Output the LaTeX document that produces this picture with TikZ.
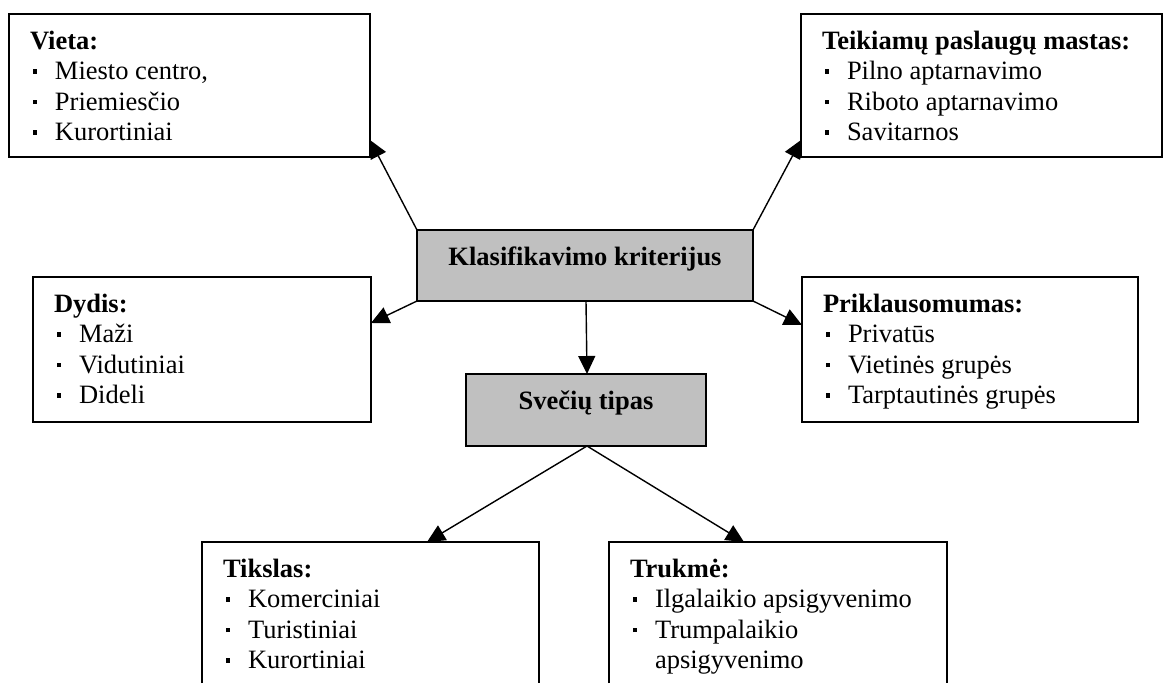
\documentclass[tikz,border=0pt]{standalone}
\usepackage{fontspec}
\setmainfont{Liberation Serif}
\usetikzlibrary{arrows.meta,calc}
\definecolor{boxgray}{HTML}{C0C0C0}
\newcommand\itm[1]{\par\hspace*{24pt}\raisebox{6pt}{\rule{4.2pt}{4.2pt}}\hspace*{17.8pt}#1}
\newcommand\ttl[1]{\hspace*{21pt}\rule{0pt}{35pt}\textbf{#1}}
\newcommand\listbox[3]{\parbox[c][#2pt][t]{#1pt}{\fontsize{26.5}{30.5}\selectfont\raggedright #3}}
\newcommand\midbox[3]{\parbox[c][#2pt][t]{#1pt}{\centering\fontsize{26.5}{30.5}\selectfont\bfseries\rule{0pt}{35pt}#3}}
\begin{document}
\begin{tikzpicture}[x=1pt,y=-1pt,
  frame/.style={draw=black,line width=1.5pt,inner sep=0pt,outer sep=0pt,anchor=north west,fill=white},
  openframe/.style={inner sep=0pt,outer sep=0pt,anchor=north west},
  grayframe/.style={frame,fill=boxgray},
  conn/.style={line width=1.4pt,-{Triangle[length=18pt,width=17pt]}},
  edge/.style={line width=1.5pt}]
\useasboundingbox (0,0) rectangle (1164,683);
\node[frame] (vieta) at (9,14) {\listbox{361}{143}{\ttl{Vieta:}\itm{Miesto centro,}\itm{Priemies\v{c}io}\itm{Kurortiniai}}};
\node[frame] (teik) at (801,14) {\listbox{361}{143}{\ttl{Teikiamų paslaugų mastas:}\itm{Pilno aptarnavimo}\itm{Riboto aptarnavimo}\itm{Savitarnos}}};
\node[frame] (dydis) at (33,277) {\listbox{338}{145}{\ttl{Dydis:}\itm{Maži}\itm{Vidutiniai}\itm{Dideli}}};
\node[frame] (prik) at (802,277) {\listbox{336}{145}{\ttl{Priklausomumas:}\itm{Privatūs}\itm{Vietinės grupės}\itm{Tarptautinės grupės}}};
\node[grayframe] (klas) at (417,230) {\midbox{336}{71}{Klasifikavimo kriterijus}};
\node[grayframe] (svec) at (466,374) {\midbox{240}{72}{Svečių tipas}};
\node[openframe] (tik) at (202,542) {\listbox{337}{141}{\ttl{Tikslas:}\itm{Komerciniai}\itm{Turistiniai}\itm{Kurortiniai}}};
\node[openframe] (truk) at (609,542) {\listbox{338}{141}{\ttl{Trukmė:}\itm{Ilgalaikio apsigyvenimo}\itm{Trumpalaikio}\par\hspace*{46pt}apsigyvenimo}};
\draw[edge] (tik.south west) -- (tik.north west) -- (tik.north east) -- (tik.south east);
\draw[edge] (truk.south west) -- (truk.north west) -- (truk.north east) -- (truk.south east);
\draw[conn] (klas.north west) -- ([yshift=17pt]vieta.south east);
\draw[conn] (klas.north east) -- ([yshift=17pt]teik.south west);
\draw[conn] (klas.south west) -- ([yshift=-46pt]dydis.north east);
\draw[conn] (klas.south east) -- ([yshift=-48pt]prik.north west);
\draw[conn] ([xshift=1pt]klas.south) -- ([xshift=1pt]svec.north);
\draw[conn] ([xshift=1pt]svec.south) -- ([xshift=56.5pt]tik.north);
\draw[conn] ([xshift=1pt]svec.south) -- ([xshift=-34pt]truk.north);
\end{tikzpicture}
\end{document}
